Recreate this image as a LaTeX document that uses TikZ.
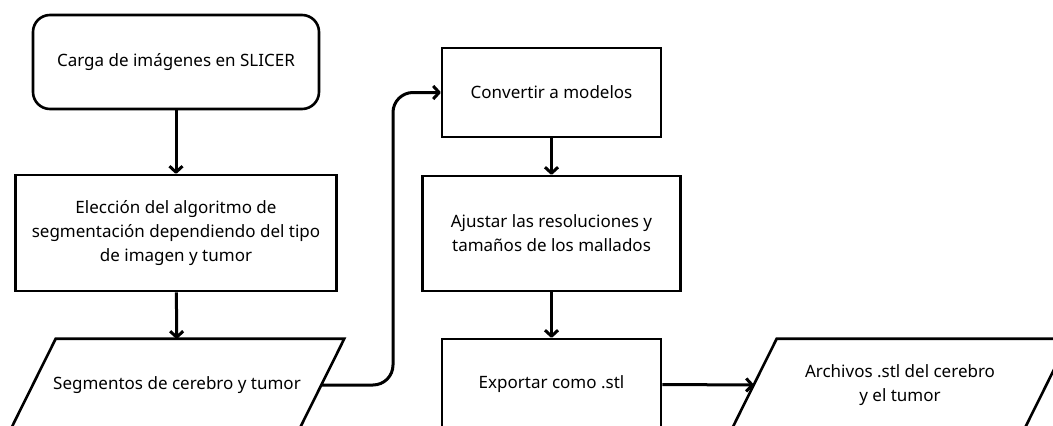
\documentclass[tikz,border=0pt]{standalone}
\usepackage{fontspec}
\setmainfont{Noto Sans}
\usepackage{tikz}
\usetikzlibrary{arrows.meta}

\begin{document}
\begin{tikzpicture}[x=1pt, y=-1pt, line width=2.6pt,
	caja/.style={draw, align=center, inner sep=0pt, font=\fontsize{17}{24}\selectfont},
	datos/.style={align=center, inner sep=0pt, minimum height=90pt, font=\fontsize{17}{24}\selectfont},
	flecha/.style={line width=3pt, -{Straight Barb[length=6pt, width=13pt, line join=round]}}]
			\def\W{1053};
			\def\H{426};

			\def\xA{176};
			\def\xB{551.5};
			\def\s{23pt};

			\useasboundingbox (0,0) rectangle (\W,\H);
			\clip (0,0) rectangle (\W,\H);

			\begin{scope}
				\node[caja, rounded corners=17pt, minimum width=286pt, minimum height=94pt] (carga) at (\xA,62) {Carga de imágenes en SLICER};
				\node[caja, minimum width=321pt, minimum height=116pt] (eleccion) at (\xA,233) {Elección del algoritmo de\\segmentación dependiendo del tipo\\de imagen y tumor};
				\node[datos, minimum width=286pt] (segmentos) at (177,385) {Segmentos de cerebro y tumor};
			\end{scope}

			\begin{scope}
				\node[caja, minimum width=219pt, minimum height=89pt] (convertir) at (\xB,92.5) {Convertir a modelos};
				\node[caja, minimum width=258pt, minimum height=115pt] (ajustar) at (\xB,233.5) {Ajustar las resoluciones y\\tamaños de los mallados};
				\node[caja, minimum width=219pt, minimum height=91pt] (exportar) at (\xB,384.5) {Exportar como .stl};
				\node[datos, minimum width=290pt] (archivos) at (900,385) {Archivos .stl del cerebro\\y el tumor};
			\end{scope}

			% parallelograms of the data nodes
			\foreach \n in {segmentos, archivos}
			{
				\draw ([xshift=\s]\n.north west) -- ([xshift=\s]\n.north east)
					-- ([xshift=-\s]\n.south east) -- ([xshift=-\s]\n.south west) -- cycle;
			}

			\coordinate (codo) at (393,240);

			\begin{scope}[flecha]
				\draw (carga) -- (eleccion);
				\draw (eleccion) -- (segmentos);
				\draw[rounded corners=20pt] (segmentos.east) -| (codo) |- (convertir.west);
				\draw (convertir) -- (ajustar);
				\draw (ajustar) -- (exportar);
				\draw (exportar.east) -- (archivos.west);
			\end{scope}
		\end{tikzpicture}
\end{document}
